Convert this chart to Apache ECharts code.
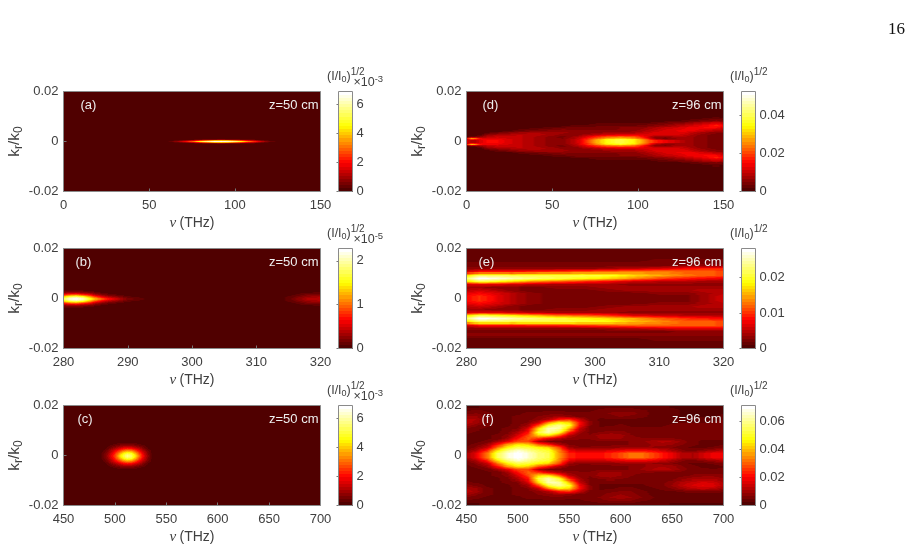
<!DOCTYPE html>
<html>
<head>
<meta charset="utf-8">
<style>html,body{margin:0;padding:0;background:#fff}#chart{width:916px;height:550px}</style>
<script src="https://cdn.jsdelivr.net/npm/echarts@6/dist/echarts.min.js"></script>
</head>
<body>
<div id="chart"></div>
<script>
// Spectral amplitude maps (I/I0)^(1/2) against frequency and transverse wavenumber.
// Every map: nu samples, k row edges (units of 1e-3), one row of amplitudes per k band.

const aNu = [60,66,72,76,80,84,88,92,96,100,104,108,112,116,120,126];
const aKEdges = [1.0,0.6,0.2,-0.2,-0.6,-1.0];
const aCells = [
 [0,0,1,2,4,5,6,7,6,5,4,3,2,1,0,0],
 [0,3,9,15,24,31,37,39,37,31,24,17,11,5,2,0],
 [0,8,20,32,46,58,65,67,64,56,44,32,22,12,5,0],
 [0,3,9,15,24,31,37,39,37,31,24,17,11,5,2,0],
 [0,0,1,2,4,5,6,7,6,5,4,3,2,1,0,0]
];

const bNu = [280,281,282,283,284,285,286,287,288,289,290,292,294,312,314,316,318,320];
const bKEdges = [4.4,3.6,2.8,2.0,1.2,0.4,-0.4,-1.2,-2.0,-2.8,-3.6,-4.4];
const bCells = [
 [0,0,0,0,0,0,0,0,0,0,0,0,0,0,0,0,0,0],
 [1,1,1,1,.5,.3,0,0,0,0,0,0,0,0,0,0,.2,.3],
 [3,4,4,3,2.5,1.5,.8,.4,.2,0,0,0,0,0,0,.3,.8,1],
 [8,10,11,9,7,4,2.5,1.5,1,.5,.2,0,0,0,0,.8,2,2.5],
 [14,18,19,17,13,9,6,4,3,2,1,.5,0,0,.2,1.5,3,3.5],
 [18,22,23,21,17,13,10,7.5,5.5,3.5,2,1,0,0,.5,2,4,4],
 [14,18,19,17,13,9,6,4,3,2,1,.5,0,0,.2,1.5,3,3.5],
 [8,10,11,9,7,4,2.5,1.5,1,.5,.2,0,0,0,0,.8,2,2.5],
 [3,4,4,3,2.5,1.5,.8,.4,.2,0,0,0,0,0,0,.3,.8,1],
 [1,1,1,1,.5,.3,0,0,0,0,0,0,0,0,0,0,.2,.3],
 [0,0,0,0,0,0,0,0,0,0,0,0,0,0,0,0,0,0]
];

const cNu = [484,488,492,496,500,504,508,512,516,520,524,528,532,536,540];
const cKEdges = [6.0,5.2,4.4,3.6,2.8,2.0,1.2,0.4,-0.4,-1.2,-2.0,-2.8,-3.6,-4.4,-5.2,-6.0];
const cCells = [
 [0,0,0,0,1,1,1,1,1,1,1,0,0,0,0],
 [0,0,0,1,2,3,4,4,4,3,2,1,0,0,0],
 [0,0,1,3,5,7,9,10,9,7,5,3,1,0,0],
 [0,0,2,5,9,13,17,19,18,14,10,5,2,0,0],
 [0,1,4,9,15,21,27,30,29,23,16,9,4,1,0],
 [0,2,6,12,20,28,37,42,40,31,22,13,6,1,0],
 [0,3,7,15,24,35,46,53,50,39,27,16,7,2,0],
 [0,3,8,16,26,38,50,58,54,42,30,18,8,2,0],
 [0,3,7,15,24,35,46,53,50,39,27,16,7,2,0],
 [0,2,6,12,20,28,37,42,40,31,22,13,6,1,0],
 [0,1,4,9,15,21,27,30,29,23,16,9,4,1,0],
 [0,0,2,5,9,13,17,19,18,14,10,5,2,0,0],
 [0,0,1,3,5,7,9,10,9,7,5,3,1,0,0],
 [0,0,0,1,2,3,4,4,4,3,2,1,0,0,0],
 [0,0,0,0,1,1,1,1,1,1,1,0,0,0,0]
];

const dNu = [0,3,5,8,12,18,25,32,40,48,56,64,70,76,82,90,98,104,110,116,122,128,134,140,146,150];
const dKEdges = [10,9,8,7,6,5,4,3,2.1,1.5,0.9,0.5,0,-0.5,-0.9,-1.5,-2.1,-3,-4,-5,-6,-7,-8,-9,-10];
const dCells = [
 [0,0,0,0,0,0,0,0,0,0,0,0,0,0,0,0,0,0,0,0,0,0,0,1,2,1],
 [0,0,0,0,0,0,0,0,0,0,0,0,0,0,0,0,0,0,0,1,1,2,3,4,5,4],
 [0,0,0,0,0,0,0,0,0,0,0,0,0,1,1,1,1,1,2,3,4,5,7,9,11,9],
 [0,0,0,0,0,0,0,0,0,0,1,2,2,3,3,3,3,4,5,6,8,10,12,14,17,14],
 [0,0,0,0,0,0,0,0,1,2,3,4,4,4,4,5,5,6,8,10,11,13,14,15,15,12],
 [0,0,0,0,0,0,1,3,4,5,6,5,5,5,5,5,6,8,10,12,13,14,13,11,9,8],
 [0,0,0,0,1,3,5,7,8,8,7,6,5,6,7,8,8,10,12,13,13,12,9,7,5,5],
 [0,0,0,1,6,8,9,10,9,8,6,5,8,10,12,13,13,12,13,13,12,10,7,5,4,4],
 [1,4,4,6,9,11,11,10,8,6,4,8,13,18,22,24,22,15,6,5,8,8,6,5,4,4],
 [18,34,30,16,13,13,11,10,8,6,5,9,17,24,30,33,29,20,7,4,6,8,6,5,4,4],
 [10,18,16,13,14,14,12,10,8,6,5,10,18,27,34,38,33,24,12,8,8,8,6,5,4,4],
 [12,9,9,12,15,15,12,10,8,6,5,10,19,28,35,39,34,25,17,14,11,8,6,5,4,4],
 [12,9,9,12,15,15,12,10,8,6,5,10,19,28,35,39,34,25,17,14,11,8,6,5,4,4],
 [10,18,16,13,14,14,12,10,8,6,5,10,18,27,34,38,33,24,12,8,8,8,6,5,4,4],
 [18,34,30,16,13,13,11,10,8,6,5,9,17,24,30,33,29,20,7,4,6,8,6,5,4,4],
 [1,4,4,6,9,11,11,10,8,6,4,8,13,18,22,24,22,15,6,5,8,8,6,5,4,4],
 [0,0,0,1,6,8,9,10,9,8,6,5,8,10,12,13,13,12,13,13,12,10,7,5,4,4],
 [0,0,0,0,1,3,5,7,8,8,7,6,5,6,7,8,8,10,12,13,13,12,9,7,5,5],
 [0,0,0,0,0,0,1,3,4,5,6,5,5,5,5,5,6,8,10,12,13,14,13,11,9,8],
 [0,0,0,0,0,0,0,0,1,2,3,4,4,4,4,5,5,6,8,10,11,13,14,15,15,12],
 [0,0,0,0,0,0,0,0,0,0,1,2,2,3,3,3,3,4,5,6,8,10,12,14,17,14],
 [0,0,0,0,0,0,0,0,0,0,0,0,0,1,1,1,1,1,2,3,4,5,7,9,11,9],
 [0,0,0,0,0,0,0,0,0,0,0,0,0,0,0,0,0,0,0,1,1,2,3,4,5,4],
 [0,0,0,0,0,0,0,0,0,0,0,0,0,0,0,0,0,0,0,0,0,0,0,1,2,1]
];

const eNu = [280,282,284,287,290,294,298,302,306,310,314,317,320];
const eKEdges = [20,18.75,17.5,16.25,15,13.75,12.5,11.25,10,8.75,7.5,6.25,5,3.75,2.5,1.25,0,-1.25,-2.5,-3.75,-5,-6.25,-7.5,-8.75,-10,-11.25,-12.5,-13.75,-15,-16.25,-17.5,-18.75,-20];
const eCells = [
 [1,1,1,1,1,1,1,1,1,1,1,1,1],
 [1,1,1,1,1,1,1,1,1,1,1,1,1],
 [1,1,1,1,1,1,1,1,1,1,1,1,1],
 [1,1,1,1,1,1,1,1,1,2,2,2,2],
 [2,2,2,2,2,2,2,2,2,2,2,2,2],
 [2,2,2,2,2,2,2,2,2,2,3,3,3],
 [3,3,3,3,3,3,3,4,5,6,8,9,9],
 [6,8,8,8,9,10,11,12,13,13,12,12,11],
 [17,22,22,21,21,21,21,20,17,15,13,12,11],
 [22,28,27,25,23,21,19,17,14,11,9,8,7],
 [17,21,20,17,14,12,10,8,6,5,5,4,4],
 [6,7,7,6,5,4,4,4,3,3,3,3,3],
 [4,4,3,3,2,3,3,4,4,4,4,4,4],
 [5,6,5,3,2,2,2,3,4,4,4,5,5],
 [7,8,7,5,3,2,2,2,2,3,3,4,5],
 [8,10,8,5,3,2,2,2,2,2,2,4,6],
 [8,10,8,5,3,2,2,2,2,2,2,4,6],
 [7,8,7,5,3,2,2,2,2,3,3,4,5],
 [5,6,5,3,2,2,2,3,4,4,4,5,5],
 [4,4,3,3,2,3,3,4,4,4,4,4,4],
 [6,7,7,6,5,4,4,4,3,3,3,3,3],
 [17,21,20,18,16,13,12,10,7,6,5,5,5],
 [22,28,27,25,23,21,19,17,15,12,10,9,8],
 [17,22,22,21,21,21,20,19,16,14,12,12,11],
 [6,8,8,8,9,9,10,11,12,12,12,12,11],
 [3,3,3,3,3,3,3,4,5,6,7,7,7],
 [2,2,2,2,2,2,2,2,2,2,3,3,3],
 [3,3,3,3,3,3,3,3,3,3,3,3,3],
 [2,2,2,2,2,2,2,2,2,2,2,2,2],
 [1,1,1,1,1,1,1,1,1,2,2,2,2],
 [1,1,1,1,1,1,1,1,1,1,1,1,1],
 [1,1,1,1,1,1,1,1,1,1,1,1,1]
];

const fNu = [450,460,470,480,490,500,510,520,530,540,550,560,570,580,590,600,610,620,630,640,650,660,670,680,690,700];
const fKEdges = eKEdges;
const fCells = [
 [2,2,3,3,3,3,3,3,3,3,3,3,3,4,4,4,4,3,3,3,2,2,2,2,2,2],
 [4,5,4,4,4,4,4,4,4,4,4,4,4,5,6,6,6,5,4,3,3,2,2,2,2,2],
 [6,7,5,4,4,4,5,5,6,6,5,5,5,6,7,8,8,6,4,3,3,2,2,2,2,2],
 [9,9,5,4,4,5,5,7,8,10,8,6,5,5,6,7,6,5,4,4,3,2,2,2,2,3],
 [12,11,5,4,4,5,6,8,12,22,26,14,6,4,4,4,4,4,4,4,3,3,3,3,3,4],
 [13,10,5,4,4,5,7,14,34,46,42,22,8,4,4,4,4,4,4,4,4,4,4,4,5,6],
 [10,7,5,4,4,6,10,28,52,60,50,20,7,4,4,5,4,4,4,4,5,6,6,6,6,6],
 [6,5,4,4,5,7,16,44,64,62,40,14,6,5,6,6,5,5,5,5,6,6,6,6,6,6],
 [5,4,4,4,6,12,22,52,62,50,24,10,6,7,8,8,6,5,5,6,6,6,6,6,6,6],
 [4,4,4,5,8,16,28,42,44,30,12,8,7,10,11,10,7,6,6,6,6,5,5,5,5,5],
 [4,4,4,5,10,22,30,26,18,12,8,7,7,9,10,9,7,7,7,7,7,6,5,5,5,5],
 [4,4,5,10,18,28,28,12,6,5,5,6,6,6,6,6,7,8,10,12,11,8,5,4,4,4],
 [4,5,9,22,36,44,42,30,22,12,6,6,6,6,6,6,7,8,9,10,9,7,5,4,3,4],
 [4,8,14,32,46,54,52,46,42,28,10,7,7,8,8,9,9,9,9,8,7,5,4,4,5,7],
 [6,12,24,44,58,66,60,54,50,34,18,14,14,15,16,18,20,20,18,15,11,7,6,8,10,12],
 [10,18,32,54,66,72,66,58,54,36,24,21,21,21,24,28,32,32,28,23,18,12,11,15,19,19],
 [10,18,32,54,66,72,66,58,54,36,24,21,21,21,24,28,32,32,28,23,18,12,11,15,19,19],
 [6,12,24,44,58,66,60,54,50,34,18,14,14,15,16,18,20,20,18,15,11,7,6,8,10,12],
 [4,8,14,32,46,54,52,46,42,28,10,7,7,8,8,9,9,9,9,8,7,5,4,4,5,7],
 [4,5,9,22,36,44,42,30,22,12,6,6,6,6,6,6,7,8,10,11,10,7,5,4,3,4],
 [4,4,5,10,18,28,28,12,6,5,5,6,6,6,6,6,7,9,11,13,11,8,5,5,5,5],
 [4,4,4,5,10,22,30,26,18,12,8,7,7,9,10,9,7,7,7,6,6,6,6,6,6,6],
 [4,4,4,5,8,16,28,42,44,30,12,8,7,10,11,9,7,6,5,5,5,6,7,8,8,7],
 [4,4,4,4,6,12,22,52,62,50,24,10,6,7,8,7,6,5,5,5,6,8,10,11,11,9],
 [5,4,4,4,5,7,16,44,64,62,40,14,6,5,5,5,5,5,5,6,8,12,14,16,15,11],
 [8,6,4,4,4,6,10,28,52,60,50,20,7,4,4,4,4,4,5,6,9,13,16,18,17,12],
 [11,9,5,4,4,5,7,14,34,46,42,22,8,4,4,5,5,4,4,5,7,10,13,14,13,9],
 [13,10,5,4,4,5,6,8,12,22,26,14,6,5,6,7,7,5,4,4,4,5,6,6,6,5],
 [10,7,5,4,4,5,5,7,8,10,8,6,5,6,8,9,8,6,4,4,3,3,3,3,3,3],
 [6,5,4,4,4,4,5,5,6,6,5,5,6,7,9,10,9,7,5,3,3,3,3,3,3,3],
 [4,4,4,4,4,4,4,4,4,4,4,4,5,6,7,8,7,5,4,3,3,3,3,3,3,3],
 [2,2,3,3,3,3,3,3,3,3,3,3,3,4,4,4,4,3,3,3,2,2,2,2,2,2]
];

// Panel order: a, b, c (z = 50 cm) then d, e, f (z = 96 cm)
const panelTags = ['(a)','(b)','(c)','(d)','(e)','(f)'];
const panelZ = ['z=50 cm','z=50 cm','z=50 cm','z=96 cm','z=96 cm','z=96 cm'];
const nuMins = [0,280,450,0,280,450];
const nuMaxs = [150,320,700,150,320,700];
const nuSteps = [50,10,50,50,10,50];
const barMaxs = [6.9,2.28,6.9,0.0524,0.0282,0.0714];
const barSteps = [2,1,2,0.02,0.01,0.02];
const cellUnits = [0.1,0.1,0.1,0.001,0.001,0.001];
const barExponents = ['-3','-5','-3','','',''];
const nuSets = [aNu,bNu,cNu,dNu,eNu,fNu];
const kSets = [aKEdges,bKEdges,cKEdges,dKEdges,eKEdges,fKEdges];
const cellSets = [aCells,bCells,cCells,dCells,eCells,fCells];

const plotLefts = [63.5,63.5,63.5,466.5,466.5,466.5];
const plotTops = [91.5,248.5,405.5,91.5,248.5,405.5];
const plotW = 257, plotH = 100;
const barOffset = 275, barW = 14;
const tagOffsets = [17,12,14,16,12,15];

const LEVELS = 32;
const TEXT = '#404040';
const SANS = '"Liberation Sans", Arial, sans-serif';

// Dark-red to white ramp, stepped like an indexed colour map
function ramp(t) {
  t = Math.min(1, Math.max(0, t));
  t = Math.min(LEVELS - 1, Math.floor(t * LEVELS)) / (LEVELS - 1);
  let r, g, b;
  if (t < 0.28) { r = 80 + 175 * t / 0.28; g = 0; b = 0; }
  else if (t < 0.66) { r = 255; g = 255 * (t - 0.28) / 0.38; b = 0; }
  else { r = 255; g = 255; b = 255 * (t - 0.66) / 0.34; }
  return 'rgb(' + Math.round(r) + ',' + Math.round(g) + ',' + Math.round(b) + ')';
}

// Colours along one strip, shaded from the nu samples of its row(s) through the ramp
function stripStops(nu, rowA, rowB, w, unit, barMax) {
  const at = i => rowA[i] + w * (rowB[i] - rowA[i]);
  const stops = [], span = nu[nu.length - 1] - nu[0];
  for (let i = 0; i < nu.length - 1; i++) {
    for (let s = 0; s < 6; s++) {
      const f = s / 6;
      stops.push({
        offset: (nu[i] + f * (nu[i + 1] - nu[i]) - nu[0]) / span,
        color: ramp((at(i) + f * (at(i + 1) - at(i))) * unit / barMax)
      });
    }
  }
  stops.push({ offset: 1, color: ramp(at(nu.length - 1) * unit / barMax) });
  return stops;
}

const grids = [], xAxes = [], yAxes = [], series = [], graphics = [];

panelTags.forEach((tag, p) => {
  const left = plotLefts[p], top = plotTops[p];
  const nu = nuSets[p], kEdges = kSets[p], cells = cellSets[p];
  const unit = cellUnits[p], barMax = barMaxs[p];
  const centre = i => (kEdges[i] + kEdges[i + 1]) / 2;

  // Map
  grids.push({ left, top, width: plotW, height: plotH, show: true, backgroundColor: ramp(0), borderWidth: 0 });
  xAxes.push({
    type: 'value', gridIndex: 2 * p, min: nuMins[p], max: nuMaxs[p], interval: nuSteps[p],
    splitLine: { show: false }, axisLine: { show: false, onZero: false },
    axisTick: { show: true, inside: true, length: 3, lineStyle: { color: '#777' } },
    axisLabel: { color: TEXT, fontSize: 13, fontFamily: SANS, margin: 7 },
    name: '{v|\u03BD} {t|(THz)}', nameLocation: 'middle', nameGap: 24,
    nameTextStyle: { rich: {
      v: { fontFamily: '"Liberation Serif", serif', fontStyle: 'italic', fontSize: 15, color: TEXT },
      t: { fontFamily: SANS, fontSize: 14, color: TEXT }
    } }
  });
  yAxes.push({
    type: 'value', gridIndex: 2 * p, min: -0.02, max: 0.02, interval: 0.02,
    splitLine: { show: false }, axisLine: { show: false, onZero: false },
    axisTick: { show: true, inside: true, length: 3, lineStyle: { color: '#777' } },
    axisLabel: { color: TEXT, fontSize: 13, fontFamily: SANS, margin: 5,
      formatter: v => (Math.abs(v) < 1e-9 ? '0' : v.toFixed(2)) },
    name: '{m|k}{s|r}{m|/k}{s|0}', nameLocation: 'middle', nameRotate: 90, nameGap: 39,
    nameTextStyle: { rich: {
      m: { fontFamily: SANS, fontSize: 15.5, color: TEXT },
      s: { fontFamily: SANS, fontSize: 12, color: TEXT, padding: [8, 0, 0, 0] }
    } }
  });
  series.push({
    type: 'custom', xAxisIndex: 2 * p, yAxisIndex: 2 * p, silent: true, clip: true,
    data: cells.map((row, i) => [nu[0], kEdges[i] / 1000, nu[nu.length - 1], kEdges[i + 1] / 1000, i]),
    encode: { x: [0, 2], y: [1, 3] },
    renderItem: (params, api) => {
      const a = api.coord([api.value(0), api.value(1)]);
      const b = api.coord([api.value(2), api.value(3)]);
      const i = api.value(4), h = b[1] - a[1];
      const n = Math.max(1, Math.round(h));
      const children = [];
      for (let s = 0; s < n; s++) {
        // Each row is shaded towards its neighbour across the pixel strips
        const f = (s + 0.5) / n;
        const ky = kEdges[i] + f * (kEdges[i + 1] - kEdges[i]);
        const j = f < 0.5 ? i - 1 : i + 1;
        const other = cells[j] || cells[i];
        const w = cells[j] ? (ky - centre(i)) / (centre(j) - centre(i)) : 0;
        const y0 = Math.round(a[1] + s * h / n), y1 = Math.round(a[1] + (s + 1) * h / n);
        if (y1 <= y0) continue;
        children.push({
          type: 'rect',
          shape: { x: a[0], y: y0, width: b[0] - a[0], height: y1 - y0 },
          style: { fill: new echarts.graphic.LinearGradient(0, 0, 1, 0,
            stripStops(nu, cells[i], other, w, unit, barMax)) }
        });
      }
      return { type: 'group', children };
    }
  });

  // Colour scale beside the map
  const barLeft = left + barOffset;
  grids.push({ left: barLeft, top, width: barW, height: plotH, show: false });
  xAxes.push({ type: 'value', gridIndex: 2 * p + 1, min: 0, max: 1, show: false });
  yAxes.push({
    type: 'value', gridIndex: 2 * p + 1, position: 'right', min: 0, max: barMax, interval: barSteps[p],
    splitLine: { show: false }, axisLine: { show: false },
    axisTick: { show: true, inside: true, length: 2, lineStyle: { color: '#777' } },
    axisLabel: { color: TEXT, fontSize: 13, fontFamily: SANS, margin: 4,
      showMaxLabel: false, formatter: v => String(+v.toFixed(3)) }
  });
  const levelData = [];
  for (let i = 0; i < LEVELS; i++) levelData.push([0, i / LEVELS * barMax, 1, (i + 1) / LEVELS * barMax]);
  series.push({
    type: 'custom', xAxisIndex: 2 * p + 1, yAxisIndex: 2 * p + 1, silent: true,
    data: levelData, encode: { x: [0, 2], y: [1, 3] },
    renderItem: (params, api) => {
      const a = api.coord([api.value(0), api.value(3)]);
      const b = api.coord([api.value(2), api.value(1)]);
      const y0 = Math.round(a[1]), y1 = Math.round(b[1]);
      return {
        type: 'rect',
        shape: { x: Math.round(a[0]), y: y0, width: Math.round(b[0]) - Math.round(a[0]), height: y1 - y0 },
        style: { fill: ramp((params.dataIndex + 0.5) / LEVELS) }
      };
    }
  });

  // Frames and captions
  [[left, plotW], [barLeft, barW]].forEach(f => graphics.push({
    type: 'rect', z: 100, silent: true,
    shape: { x: f[0], y: top, width: f[1], height: plotH },
    style: { fill: 'none', stroke: '#8a8a8a', lineWidth: 1 }
  }));
  graphics.push({ type: 'text', z: 101, silent: true, x: left + tagOffsets[p], y: top + 13.5,
    style: { text: tag, fill: '#eeeeee', font: '13px ' + SANS, verticalAlign: 'middle' } });
  graphics.push({ type: 'text', z: 101, silent: true, x: left + plotW - 2, y: top + 13.5,
    style: { text: panelZ[p], fill: '#eeeeee', font: '13px ' + SANS, align: 'right', verticalAlign: 'middle' } });

  const capLeft = left + 263.5;
  graphics.push({ type: 'text', z: 101, silent: true, x: capLeft, y: top - 15,
    style: {
      text: '{m|(I/I}{s|0}{m|)}{u|1/2}',
      verticalAlign: 'middle',
      rich: {
        m: { font: '12.5px ' + SANS, fill: TEXT },
        s: { font: '9px ' + SANS, fill: TEXT, padding: [7, 0, 0, 0] },
        u: { font: '10px ' + SANS, fill: TEXT, padding: [0, 0, 9, 0] }
      }
    } });
  if (barExponents[p]) {
    graphics.push({ type: 'text', z: 102, silent: true, x: capLeft + 26.5, y: top - 8.5,
      style: {
        text: '{m|\u00D710}{u|' + barExponents[p] + '}',
        verticalAlign: 'middle',
        rich: {
          m: { font: '12.5px ' + SANS, fill: TEXT },
          u: { font: '9.5px ' + SANS, fill: TEXT, padding: [0, 0, 7, 0] }
        }
      } });
  }
});

// Page number
graphics.push({ type: 'text', silent: true, x: 905, y: 30,
  style: { text: '16', fill: '#111', font: '17px "Liberation Serif", serif', align: 'right', verticalAlign: 'middle' } });

const chart = echarts.init(document.getElementById('chart'), null, { renderer: 'canvas' });
chart.setOption({
  animation: false,
  backgroundColor: '#ffffff',
  grid: grids, xAxis: xAxes, yAxis: yAxes, series,
  graphic: { elements: graphics }
});
</script>
</body>
</html>
